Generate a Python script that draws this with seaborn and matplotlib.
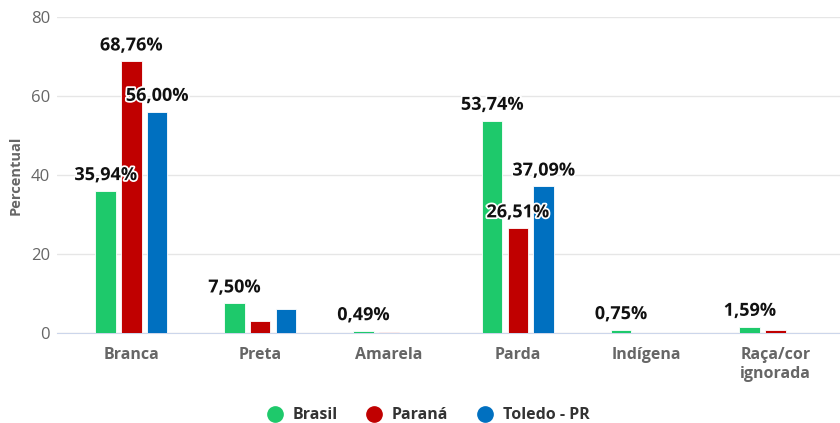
import numpy as np
import pandas as pd
import seaborn as sns
import matplotlib.pyplot as plt
from matplotlib.lines import Line2D
import matplotlib.patheffects as pe

# dados
categorias = ["Branca", "Preta", "Amarela", "Parda", "Indígena", "Raça/cor\nignorada"]
series = ["Brasil", "Paraná", "Toledo - PR"]
brasil = [35.94, 7.50, 0.49, 53.74, 0.75, 1.59]
parana = [68.76, 2.96, 0.35, 26.51, 0.05, 0.70]
toledo = [56.00, 6.00, 0.0, 37.09, 0.0, 0.0]
rotulos_brasil = ["35,94%", "7,50%", "0,49%", "53,74%", "0,75%", "1,59%"]
rotulos_parana = ["68,76%", "", "", "26,51%", "", ""]
rotulos_toledo = ["56,00%", "", "", "37,09%", "", ""]
cores = ["#1ec96b", "#c00000", "#0070c0"]

df = pd.DataFrame({
    "categoria": categorias * 3,
    "serie": np.repeat(series, len(categorias)),
    "valor": brasil + parana + toledo,
})

sns.set_style("white")
plt.rcParams["font.family"] = ["Open Sans", "DejaVu Sans"]

fig = plt.figure(figsize=(8.4, 4.23), dpi=100)
ax = fig.add_axes([57 / 840, 1 - 333 / 423, 783 / 840, 316 / 423])

sns.barplot(data=df, x="categoria", y="valor", hue="serie", palette=cores,
            width=0.6, gap=0.2, order=categorias, hue_order=series,
            legend=False, ax=ax, saturation=1, edgecolor="white", linewidth=0.6)

for cont, rot in zip(ax.containers, [rotulos_brasil, rotulos_parana, rotulos_toledo]):
    txts = ax.bar_label(cont, labels=rot, padding=5, fontsize=13, fontweight="bold",
                        color="#111111")
    for t in txts:
        t.set_path_effects([pe.withStroke(linewidth=2.5, foreground="white")])

ax.set_ylim(0, 80)
ax.set_yticks([0, 20, 40, 60, 80])
ax.set_xlim(-0.5 - 10 / 130.6, (840 - 67) / 130.6 - 0.5)
ax.grid(axis="y", color="#e6e6e6", linewidth=1)
ax.set_axisbelow(True)
for s in ["top", "right", "left"]:
    ax.spines[s].set_visible(False)
ax.spines["bottom"].set_color("#ccd6eb")
ax.spines["bottom"].set_zorder(0.5)

ax.set_xticks(np.arange(-0.5, len(categorias), 1.0), minor=True)
ax.tick_params(axis="x", which="minor", length=8, color="#ccd6eb", width=1)
ax.tick_params(axis="x", which="major", length=0, pad=10, labelsize=11.5, labelcolor="#666666")
ax.tick_params(axis="y", length=0, pad=5, labelsize=12, labelcolor="#666666")
for lb in ax.get_xticklabels():
    lb.set_fontweight("bold")
    lb.set_linespacing(1.3)

ax.set_xlabel("")
ax.set_ylabel("Percentual", fontsize=10.5, fontweight="bold", color="#666666", labelpad=6)

handles = [Line2D([0], [0], marker="o", linestyle="", markersize=11,
                  markerfacecolor=c, markeredgecolor=c) for c in cores]
fig.legend(handles, series, loc="lower center", bbox_to_anchor=(0.505, -0.035), ncol=3,
           frameon=False, handletextpad=0.1, columnspacing=1.3,
           prop={"weight": "bold", "size": 11.5}, labelcolor="#333333")

fig.savefig("out.png", dpi=100)
